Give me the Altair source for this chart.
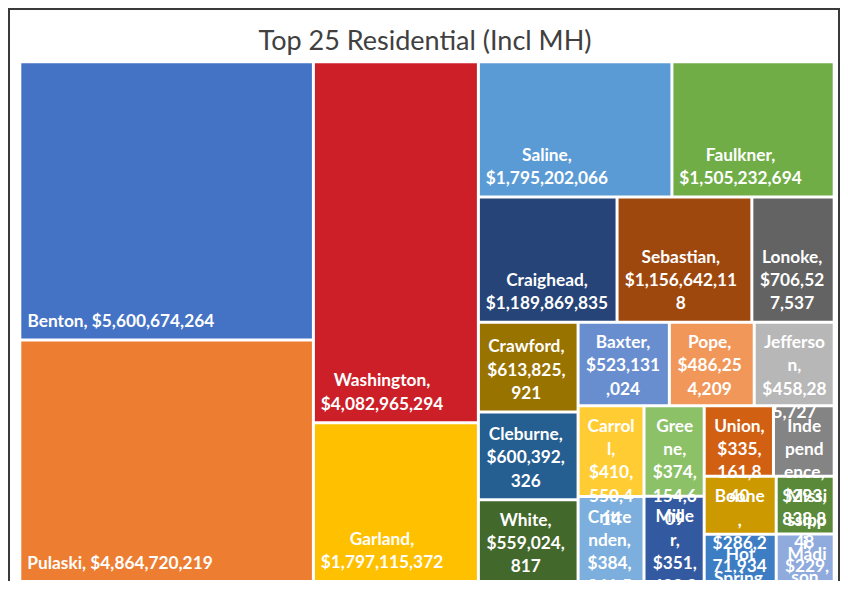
import math
import altair as alt
import pandas as pd

TITLE = "Top 25 Residential (Incl MH)"

COUNTIES = ["Benton", "Pulaski", "Washington", "Garland", "Saline", "Faulkner",
            "Craighead", "Sebastian", "Lonoke", "Crawford", "Cleburne", "White",
            "Baxter", "Pope", "Jefferson", "Carroll", "Crittenden", "Greene",
            "Miller", "Union", "Independence", "Boone", "Hot Spring",
            "Mississippi", "Madison"]

VALUES = [5600674264, 4864720219, 4082965294, 1797115372, 1795202066, 1505232694,
          1189869835, 1156642118, 706527537, 613825921, 600392326, 559024817,
          523131024, 486254209, 458285727, 410550414, 384261507, 374154609,
          351482930, 335161840, 293838848, 286271934, 233612408,
          229487615, 189034277]

COLORS = ["#4472C4", "#ED7D31", "#CC1F27", "#FFC000", "#5B9BD5", "#70AD47",
          "#264478", "#9E480E", "#636363", "#997300", "#255E91", "#43682B",
          "#698ED0", "#F1975A", "#B7B7B7", "#FFCD33", "#7CAFDD", "#8CC168",
          "#335AA1", "#D26012", "#848484", "#CC9A00", "#3C7DC4",
          "#5A8A39", "#8FAADC"]

# data label text, wrapped as in the picture
LABEL_LINES = [
    ["Benton, $5,600,674,264"],
    ["Pulaski, $4,864,720,219"],
    ["Washington,", "$4,082,965,294"],
    ["Garland,", "$1,797,115,372"],
    ["Saline,", "$1,795,202,066"],
    ["Faulkner,", "$1,505,232,694"],
    ["Craighead,", "$1,189,869,835"],
    ["Sebastian,", "$1,156,642,11", "8"],
    ["Lonoke,", "$706,52", "7,537"],
    ["Crawford,", "$613,825,", "921"],
    ["Cleburne,", "$600,392,", "326"],
    ["White,", "$559,024,", "817"],
    ["Baxter,", "$523,131", ",024"],
    ["Pope,", "$486,25", "4,209"],
    ["Jefferso", "n,", "$458,28", "5,727"],
    ["Carrol", "l,", "$410,", "550,4", "14"],
    ["Critte", "nden,", "$384,", "261,5", "07"],
    ["Gree", "ne,", "$374,", "154,6", "09"],
    ["Mille", "r,", "$351,", "482,9", "30"],
    ["Union,", "$335,", "161,8", "40"],
    ["Inde", "pend", "ence,", "$293,", "838,8", "48"],
    ["Boone", ",", "$286,2", "71,934"],
    ["Hot", "Spring,", "$233,6", "12,408"],
    ["Missi", "ssipp", "i,", "$229,", "487,6", "15"],
    ["Madi", "son,", "$189,", "034,2", "77"],
]

# ---- geometry (view coordinates; the view starts at page (8, 8)) ----
VIEW_W, VIEW_H = 832, 574
TM_X, TM_Y, TM_W, TM_H = 11.8, 53.8, 814.4, 519.7   # treemap area
GAP = 1.5
LINE_H = 23.3
LABEL_PX = 18.67  # reference label em size used for block widths

# approximate advance widths (em) of the reference bold label face
CW = {' ': .226, ',': .250, '$': .507, '.': .252}
CW.update({d: .507 for d in "0123456789"})
CW.update(dict(B=.544, P=.517, W=.913, G=.631, S=.474, F=.459, C=.533, L=.420,
               J=.331, U=.654, I=.267, H=.631, M=.873))
CW.update(dict(a=.494, b=.535, c=.418, d=.535, e=.503, f=.316, g=.474, h=.535,
               i=.246, k=.479, l=.246, m=.817, n=.535, o=.537, p=.535, r=.355,
               s=.399, t=.347, u=.535, w=.744, v=.473, x=.459, y=.474))


def text_w(s):
    return sum(CW.get(ch, .5) for ch in s) * LABEL_PX


def strip(areas, x, y, dx, dy):
    s = sum(areas)
    out = []
    if dx >= dy:
        w = s / dy
        yy = y
        for a in areas:
            h = a / w
            out.append((x, yy, w, h))
            yy += h
        return out, (x + w, y, dx - w, dy)
    h = s / dx
    xx = x
    for a in areas:
        w = a / h
        out.append((xx, y, w, h))
        xx += w
    return out, (x, y + h, dx, dy - h)


def badness(areas, dx, dy):
    rects, _ = strip(areas, 0, 0, dx, dy)
    return sum(abs(math.log(w / h)) for _, _, w, h in rects) / len(rects)


def treemap(values, x, y, dx, dy):
    total = sum(values)
    areas = [v / total * dx * dy for v in values]
    cells = []
    i = 0
    while i < len(areas):
        n = 1
        while i + n < len(areas) and badness(areas[i:i + n + 1], dx, dy) <= badness(areas[i:i + n], dx, dy):
            n += 1
        rects, (x, y, dx, dy) = strip(areas[i:i + n], x, y, dx, dy)
        cells += rects
        i += n
    return cells


cells = treemap(VALUES, TM_X, TM_Y, TM_W, TM_H)

rows = []
for name, val, (cx, cy, cw, ch), lines in zip(COUNTIES, VALUES, cells, LABEL_LINES):
    x0, x1 = cx + GAP, cx + cw - GAP
    y0, y1 = cy + GAP, cy + ch - GAP
    n = len(lines)
    first = y1 - 11.5 - (n - 1) * LINE_H
    if first < y0 + 24.5:
        first = y0 + 24.5
    block = max(text_w(s) for s in lines)
    rows.append(dict(county=name, value=val, x0=x0, x1=x1, y0=y0, y1=y1,
                     lx=x0 + 8 + block / 2, ly=first, label="\n".join(lines)))

df = pd.DataFrame(rows)

xs = alt.Scale(domain=[0, VIEW_W], range=[0, VIEW_W], nice=False, zero=False)
ys = alt.Scale(domain=[0, VIEW_H], range=[0, VIEW_H], nice=False, zero=False)

base = alt.Chart(df)

rects = base.mark_rect(strokeWidth=0).encode(
    x=alt.X("x0:Q", scale=xs, axis=None),
    x2="x1:Q",
    y=alt.Y("y0:Q", scale=ys, axis=None),
    y2="y1:Q",
    color=alt.Color("county:N", scale=alt.Scale(domain=COUNTIES, range=COLORS), legend=None),
    tooltip=["county:N", alt.Tooltip("value:Q", format="$,")],
)

labels = base.mark_text(
    font="Lato", fontWeight="bold", fontSize=17.3, color="white",
    align="center", baseline="alphabetic", lineBreak="\n", lineHeight=LINE_H,
).encode(
    x=alt.X("lx:Q", scale=xs, axis=None),
    y=alt.Y("ly:Q", scale=ys, axis=None),
    text="label:N",
)

title = alt.Chart(pd.DataFrame({"t": [TITLE]})).mark_text(
    font="Lato", fontSize=27, color="#404040", align="center", baseline="alphabetic",
).encode(x=alt.value(417), y=alt.value(41.5), text="t:N")

# chart-area border as thin filled bars: left, top, right (bottom edge is off the page)
frame_df = pd.DataFrame({
    "fx": [0, 0, 830], "fx2": [2, 832, 832],
    "fy": [0, 0, 0], "fy2": [VIEW_H - 1, 2, VIEW_H - 1],
})
frame = alt.Chart(frame_df).mark_rect(color="#3a3a3a", strokeWidth=0).encode(
    x=alt.X("fx:Q", scale=xs, axis=None), x2="fx2:Q",
    y=alt.Y("fy:Q", scale=ys, axis=None), y2="fy2:Q",
)

chart = alt.layer(rects, labels, title, frame).properties(
    width=VIEW_W, height=VIEW_H, padding=0, autosize=alt.AutoSizeParams(type="none"),
    background="white",
).configure_view(strokeWidth=0, stroke="transparent")

chart.save("out.html", embed_options={"renderer": "svg", "actions": False})
